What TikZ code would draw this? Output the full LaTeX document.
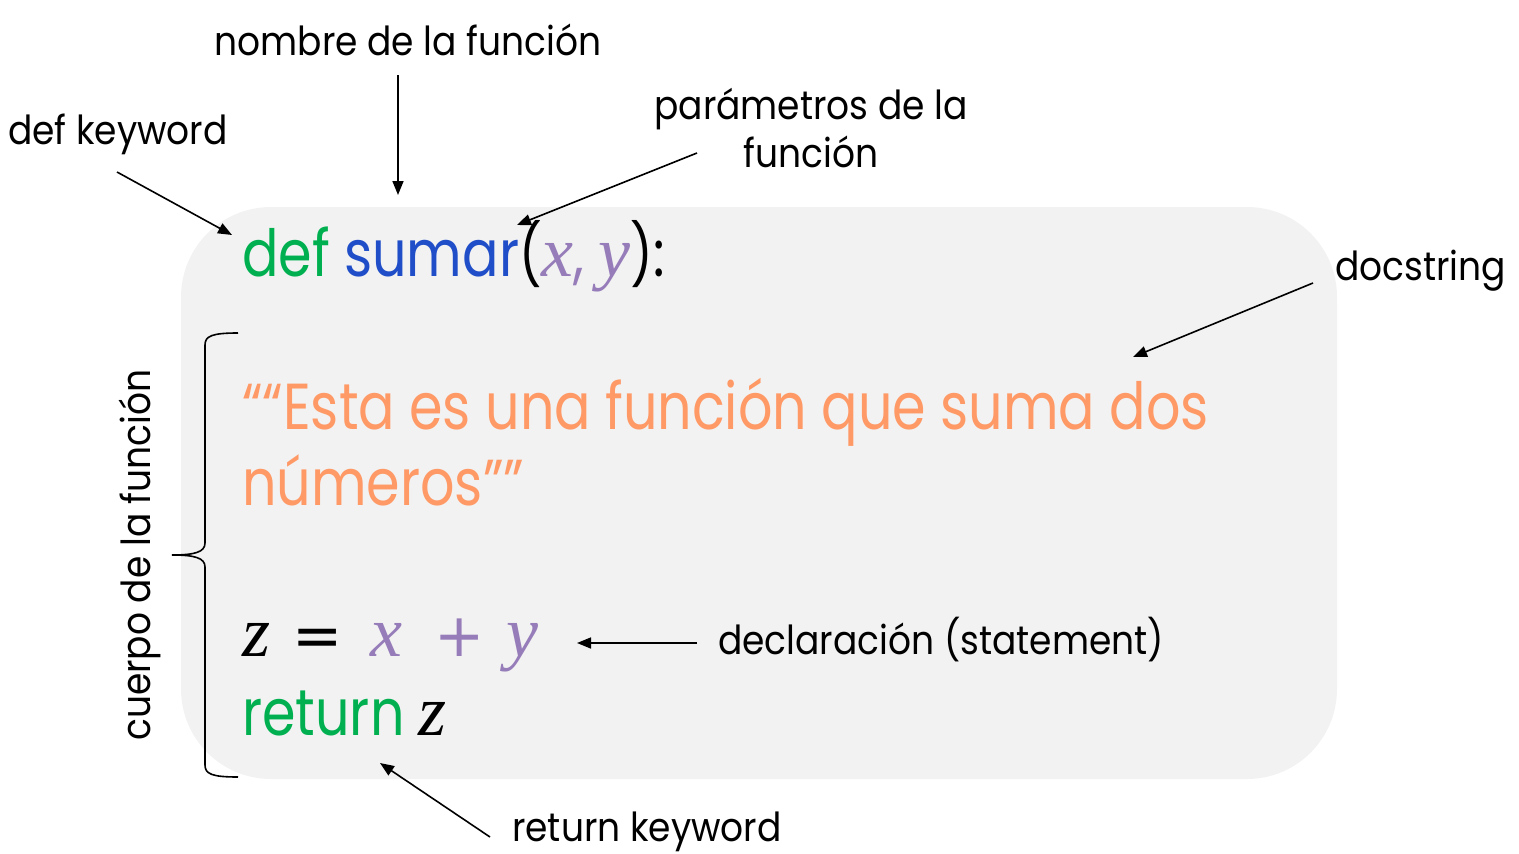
\documentclass[tikz,border=0pt]{standalone}
\usepackage{fontspec}
\setmainfont{Poppins}
\newfontfamily\annfont[FakeStretch=0.9]{Poppins}
\newfontfamily\codefont[FakeStretch=0.83]{Poppins}
\newfontfamily\opfont{DejaVu Sans}
\newfontfamily\mvfont{Liberation Serif}
\newcommand{\mv}[1]{{\mvfont\itshape\fontsize{72}{80}\selectfont #1}}
\usetikzlibrary{arrows.meta}
\definecolor{kwgreen}{RGB}{0,176,80}
\definecolor{fnblue}{RGB}{31,78,200}
\definecolor{parpurple}{RGB}{150,125,185}
\definecolor{docorange}{RGB}{255,153,102}
\definecolor{boxgray}{RGB}{242,242,242}
\tikzset{
  code/.style={inner sep=0pt, anchor=base west, font=\codefont\fontsize{65}{78}\selectfont},
  ann/.style={inner sep=0pt, font=\annfont\fontsize{40}{50}\selectfont, align=center},
  arr/.style={-{Triangle[length=14pt,width=11pt]}, line width=1.6pt},
}
\begin{document}
\begin{tikzpicture}[x=1pt,y=-1pt]
\useasboundingbox (0,0) rectangle (1519,854);
\fill[boxgray, rounded corners=90pt] (181,207) rectangle (1337,779);
% code
\node[code] (l1) at (242,276) {\textcolor{kwgreen}{def} \textcolor{fnblue}{sumar}{\fontsize{60}{70}\selectfont(}\textcolor{parpurple}{\mv{x}, \mv{y}}{\fontsize{60}{70}\selectfont)}:};
\node[code, text=docorange] (l2) at (242,429) {““Esta es una función que suma dos};
\node[code, text=docorange] (l3) at (242,505) {números””};
\node[code] (l4z) at (242,656) {\mv{z}};
\node[code] (l4eq) at (292,656) {\opfont\fontsize{60}{70}\selectfont =};
\node[code, text=parpurple] (l4x) at (370,656) {\mv{x}};
\node[code, text=parpurple] (l4p) at (434,656) {\opfont\fontsize{60}{70}\selectfont +};
\node[code, text=parpurple] (l4y) at (506,656) {\mv{y}};
\node[code] (l5) at (242,735) {\textcolor{kwgreen}{return} \mv{z}};
% brace
\draw[line width=1.6pt] (238,333) .. controls (212,333) and (205,336) .. (205,345)
  -- (205,543) .. controls (205,552) and (195,555) .. (172,555)
  .. controls (195,555) and (205,558) .. (205,567)
  -- (205,765) .. controls (205,774) and (212,777) .. (238,777);
\node[ann, rotate=90] (cuerpo) at (140,555) {cuerpo de la función};
% annotations
\node[ann] (nombre) at (408,40) {nombre de la función};
\coordinate (nombreA) at (398,75);
\coordinate (nombreB) at (398,195);
\draw[arr] (nombreA) -- (nombreB);
\node[ann, anchor=west] (defk) at (8,134) {def keyword};
\coordinate (defA) at (117,172);
\coordinate (defB) at (232,235);
\draw[arr] (defA) -- (defB);
\node[ann] (param) at (811,128) {parámetros de la\\[-2pt]función};
\coordinate (parA) at (697,153);
\coordinate (parB) at (517,225);
\draw[arr] (parA) -- (parB);
\node[ann, anchor=west] (docs) at (1335,271) {docstring};
\coordinate (docA) at (1313,283);
\coordinate (docB) at (1133,357);
\draw[arr] (docA) -- (docB);
\node[ann, anchor=west] (decl) at (718,640) {declaración (statement)};
\coordinate (declA) at (697,643);
\coordinate (declB) at (577,643);
\draw[arr] (declA) -- (declB);
\node[ann, anchor=west] (retk) at (512,832) {return keyword};
\coordinate (retA) at (490,837);
\coordinate (retB) at (380,763);
\draw[arr] (retA) -- (retB);
\end{tikzpicture}
\end{document}
